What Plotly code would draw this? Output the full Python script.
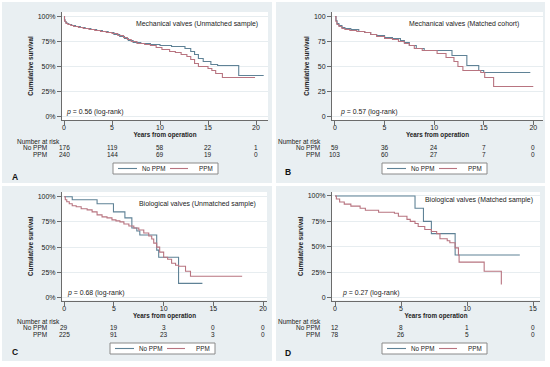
import plotly.graph_objects as go

# ---------------- data ----------------
panel_titles = [
    "Mechanical valves (Unmatched sample)",
    "Mechanical valves (Matched cohort)",
    "Biological valves (Unmatched sample)",
    "Biological valves (Matched sample)",
]
p_values = ["0.56", "0.57", "0.68", "0.27"]
panel_letters = ["A", "B", "C", "D"]
group_names = ["No PPM", "PPM"]

# Panel A - Mechanical valves (unmatched)
a_noppm_time = [0, 0.05, 0.1, 0.2, 0.3, 0.5, 0.8, 1.2, 1.7, 2.2, 2.8, 3.4, 4.0, 4.6, 5.2, 5.8, 6.3, 6.7,
                7.2, 8.0, 9.0, 10.0, 11.2, 12.6, 13.2, 13.6, 14.0, 14.5, 15.3, 16.0, 18.2, 20.8]
a_noppm_surv = [100, 97, 95, 94, 93, 92, 91, 90, 89, 88, 87, 86, 85, 84, 82, 80, 78, 76,
                74, 73, 72, 71, 70, 68, 65, 62, 58, 55, 52, 51, 41, 41]
a_ppm_time = [0, 0.05, 0.1, 0.2, 0.4, 0.7, 1.0, 1.5, 2.0, 2.6, 3.2, 3.8, 4.4, 5.0, 5.6, 6.2, 6.6, 7.0,
              7.6, 8.4, 9.0, 9.6, 10.2, 11.0, 11.6, 12.2, 12.8, 13.2, 13.6, 14.0, 15.0, 15.4, 15.8, 16.5, 19.9]
a_ppm_surv = [100, 96, 95, 93, 92, 91, 90, 89, 88, 87, 86, 85, 84, 83, 81, 79, 77, 75,
              73, 72, 71, 69, 67, 65, 64, 62, 60, 57, 53, 50, 48, 46, 43, 39, 39]

# Panel B - Mechanical valves (matched)
b_noppm_time = [0, 0.1, 0.2, 0.4, 0.7, 1.0, 1.6, 2.4, 3.0, 3.6, 4.2, 5.0, 5.8, 6.6, 7.0, 7.5, 8.2, 9.0,
                11.8, 13.3, 14.5, 15.0, 19.7]
b_noppm_surv = [100, 96, 93, 91, 89, 88, 87, 85, 84, 82, 81, 79, 78, 76, 74, 71, 68, 66,
                61, 51, 46, 44, 44]
b_ppm_time = [0, 0.1, 0.2, 0.4, 0.7, 1.0, 1.5, 2.2, 3.0, 3.6, 4.2, 5.0, 5.8, 6.4, 7.0, 7.5, 8.0, 8.8,
              10.3, 11.2, 12.0, 12.4, 12.9, 14.7, 15.1, 16.0, 20.0]
b_ppm_surv = [100, 95, 92, 90, 88, 87, 86, 85, 84, 82, 80, 78, 77, 75, 73, 71, 68, 66,
              63, 59, 55, 50, 46, 44, 39, 30, 30]

# Panel C - Biological valves (unmatched)
c_noppm_time = [0, 0.8, 3.3, 4.95, 6.1, 6.8, 7.3, 7.6, 9.3, 9.5, 11.5, 13.9]
c_noppm_surv = [100, 97, 93, 85, 79, 69, 66, 62, 47, 40, 14, 14]
c_ppm_time = [0, 0.1, 0.25, 0.5, 0.8, 1.2, 1.7, 2.3, 2.8, 3.3, 3.8, 4.3, 4.8, 5.2, 5.6, 6.0, 6.5, 7.0,
              7.5, 8.0, 8.5, 8.8, 9.0, 9.3, 9.6, 10.0, 10.4, 10.8, 11.2, 11.5, 12.2, 12.7, 17.9]
c_ppm_surv = [100, 97, 95, 93, 91, 90, 88, 87, 85, 82, 80, 79, 77, 76, 75, 73, 71, 69,
              67, 64, 61, 58, 54, 50, 45, 40, 38, 34, 32, 31, 26, 21, 21]

# Panel D - Biological valves (matched)
d_noppm_time = [0, 6.06, 6.7, 7.3, 9.1, 14.0]
d_noppm_surv = [100, 88, 75, 63, 42, 42]
d_ppm_time = [0, 0.1, 0.35, 0.7, 1.2, 1.9, 2.3, 3.3, 4.5, 4.8, 5.45, 5.7, 6.06, 6.3, 6.8, 7.3, 7.7,
              7.95, 8.5, 8.7, 9.1, 9.35, 9.4, 11.3, 12.6]
d_ppm_surv = [100, 97, 94, 92, 90, 88, 86, 84, 83, 80, 77, 75, 73, 70, 67, 65, 63,
              58, 56, 54, 49, 42, 35, 26, 13]

# Number at risk
risk_times_20 = [0, 5, 10, 15, 20]
risk_times_15 = [0, 5, 10, 15]
a_risk_noppm = [176, 119, 58, 22, 1]
a_risk_ppm = [240, 144, 69, 19, 0]
b_risk_noppm = [59, 36, 24, 7, 0]
b_risk_ppm = [103, 60, 27, 7, 0]
c_risk_noppm = [29, 19, 3, 0, 0]
c_risk_ppm = [225, 91, 23, 3, 0]
d_risk_noppm = [12, 8, 1, 0]
d_risk_ppm = [78, 26, 5, 0]

y_tick_vals = [0, 25, 50, 75, 100]
y_ticktext_pct = ["0%", "25%", "50%", "75%", "100%"]
y_ticktext_num = ["0", "25", "50", "75", "100"]
y_ticktext_d = ["0", "25%", "50%", "75%", "100%"]

series = [
    (a_noppm_time, a_noppm_surv, a_ppm_time, a_ppm_surv),
    (b_noppm_time, b_noppm_surv, b_ppm_time, b_ppm_surv),
    (c_noppm_time, c_noppm_surv, c_ppm_time, c_ppm_surv),
    (d_noppm_time, d_noppm_surv, d_ppm_time, d_ppm_surv),
]
risk = [
    (risk_times_20, a_risk_noppm, a_risk_ppm),
    (risk_times_20, b_risk_noppm, b_risk_ppm),
    (risk_times_20, c_risk_noppm, c_risk_ppm),
    (risk_times_15, d_risk_noppm, d_risk_ppm),
]
y_ticktexts = [y_ticktext_pct, y_ticktext_num, y_ticktext_pct, y_ticktext_d]
x_tick_sets = [risk_times_20, risk_times_20, risk_times_20, risk_times_15]

# ---------------- layout (pixels) ----------------
W, H = 550, 367
FONT = "Arial, 'Liberation Sans', sans-serif"
BG = "#e9eff2"
COL_NO = "#5f8296"
COL_PPM = "#b87480"
TXT = "#222222"
AX = "#6b6b6b"
colors = [COL_NO, COL_PPM]

geo = [
    dict(px=(62, 268), py=(12, 120), xr=(-0.21, 21.25), yr=(-3.5, 104.5),
         title_xy=(20.4, 93), p_xy=(0.0, 4.5), tab_y=(141.5, 147.8, 154), hdr_x=15, grp_x=49,
         leg=(113, 163), letter=(15, 177)),
    dict(px=(332, 543), py=(12, 120), xr=(-0.3, 20.98), yr=(-3.5, 104.5),
         title_xy=(18.8, 93), p_xy=(0.3, 5), tab_y=(141.5, 147.8, 154), hdr_x=276, grp_x=321.7,
         leg=(382, 163), letter=(288, 172)),
    dict(px=(62, 267), py=(192, 300.5), xr=(-0.23, 20.4), yr=(-3, 104.7),
         title_xy=(19.5, 92.8), p_xy=(0.07, 4.8), tab_y=(321.5, 327.8, 334), hdr_x=15, grp_x=49,
         leg=(110, 343), letter=(15, 352)),
    dict(px=(332, 540), py=(192, 300.5), xr=(-0.23, 15.53), yr=(-2.75, 103.9),
         title_xy=(15.15, 96), p_xy=(0.38, 5), tab_y=(321.5, 327.8, 334), hdr_x=276, grp_x=321.7,
         leg=(382, 343), letter=(288, 353)),
]
# legend box geometry relative to its left/top corner (pixels)
LEG_W, LEG_H = 105, 11
LEG_LINES = [(5, 24), (57, 75)]
LEG_TEXT_X = [27, 84]


def fx(px):
    return px / W


def fy(py):
    return 1 - py / H


fig = go.Figure()
annotations = []
shapes = []
layout_extra = {}

for i in range(4):
    g = geo[i]
    sfx = "" if i == 0 else str(i + 1)
    xa, ya = "x" + sfx, "y" + sfx
    nt, ns, pt, ps = series[i]
    fig.add_trace(go.Scatter(x=nt, y=ns, mode="lines", line=dict(color=COL_NO, width=1.1, shape="hv"),
                             name=group_names[0], xaxis=xa, yaxis=ya, showlegend=False))
    fig.add_trace(go.Scatter(x=pt, y=ps, mode="lines", line=dict(color=COL_PPM, width=1.1, shape="hv"),
                             name=group_names[1], xaxis=xa, yaxis=ya, showlegend=False))

    layout_extra["xaxis" + sfx] = dict(
        domain=[fx(g["px"][0]), fx(g["px"][1])], range=list(g["xr"]), anchor=ya,
        tickvals=x_tick_sets[i], ticks="outside", ticklen=4, tickcolor=AX, tickwidth=1,
        ticklabelstandoff=-3,
        showline=True, linecolor=AX, linewidth=1, showgrid=False, zeroline=False,
        tickfont=dict(size=7, color=TXT, family=FONT),
        title=dict(text="<b>Years from operation</b>", font=dict(size=6.3, color=TXT, family=FONT), standoff=0),
    )
    layout_extra["yaxis" + sfx] = dict(
        domain=[fy(g["py"][1]), fy(g["py"][0])], range=list(g["yr"]), anchor=xa,
        tickvals=y_tick_vals, ticktext=y_ticktexts[i], ticks="outside", ticklen=4, tickcolor=AX,
        tickwidth=1, showline=True, linecolor=AX, linewidth=1, showgrid=True, gridcolor="#e7edf0",
        gridwidth=1, zeroline=False, tickfont=dict(size=7, color=TXT, family=FONT),
        title=dict(text="<b>Cumulative survival</b>", font=dict(size=6.3, color=TXT, family=FONT), standoff=3),
    )

    # panel title inside plot
    annotations.append(dict(text=panel_titles[i], xref=xa, yref=ya, x=g["title_xy"][0], y=g["title_xy"][1],
                            xanchor="right", yanchor="middle", showarrow=False,
                            font=dict(size=6.9, color=TXT, family=FONT)))
    # p-value
    annotations.append(dict(text="<i>p</i> = " + p_values[i] + " (log-rank)", xref=xa, yref=ya,
                            x=g["p_xy"][0], y=g["p_xy"][1], xanchor="left", yanchor="middle",
                            showarrow=False, font=dict(size=6.9, color=TXT, family=FONT)))
    # number at risk table
    rt, rn, rp = risk[i]
    ty = g["tab_y"]
    annotations.append(dict(text="Number at risk", xref="paper", yref="paper", x=fx(g["hdr_x"]), y=fy(ty[0]),
                            xanchor="left", yanchor="middle", showarrow=False,
                            font=dict(size=6.5, color=TXT, family=FONT)))
    for row, (gname, vals) in enumerate([(group_names[0], rn), (group_names[1], rp)]):
        yy = fy(ty[row + 1])
        annotations.append(dict(text=gname, xref="paper", yref="paper", x=fx(g["grp_x"]), y=yy,
                                xanchor="right", yanchor="middle", showarrow=False,
                                font=dict(size=6.5, color=TXT, family=FONT)))
        for t, v in zip(rt, vals):
            annotations.append(dict(text=str(v), xref=xa, yref="paper", x=t, y=yy,
                                    xanchor="center", yanchor="middle", showarrow=False,
                                    font=dict(size=6.5, color=TXT, family=FONT)))
    # legend box (drawn as a key under the risk table)
    lx, lt = g["leg"]
    shapes.append(dict(type="rect", xref="paper", yref="paper", x0=fx(lx), x1=fx(lx + LEG_W),
                       y0=fy(lt + LEG_H), y1=fy(lt), fillcolor="white",
                       line=dict(color="#8a8a8a", width=1)))
    for k in range(2):
        ly = fy(lt + LEG_H / 2)
        shapes.append(dict(type="line", xref="paper", yref="paper", x0=fx(lx + LEG_LINES[k][0]),
                           x1=fx(lx + LEG_LINES[k][1]), y0=ly, y1=ly, line=dict(color=colors[k], width=1.1)))
        annotations.append(dict(text=group_names[k], xref="paper", yref="paper", x=fx(lx + LEG_TEXT_X[k]), y=ly,
                                xanchor="left", yanchor="middle", showarrow=False,
                                font=dict(size=6.3, color=TXT, family=FONT)))
    # panel letter
    annotations.append(dict(text="<b>" + panel_letters[i] + "</b>", xref="paper", yref="paper",
                            x=fx(g["letter"][0]), y=fy(g["letter"][1]), xanchor="center", yanchor="middle",
                            showarrow=False, font=dict(size=8.5, color="#111111", family=FONT)))

# white gaps between the four grey panels
gaps = [(0, 0, 550, 2), (0, 0, 2, 367), (545, 0, 550, 367), (0, 361, 550, 367),
        (272, 0, 276, 367), (0, 183, 550, 186)]
for a, b, c, d in gaps:
    shapes.append(dict(type="rect", xref="paper", yref="paper", x0=fx(a), x1=fx(c), y0=fy(d), y1=fy(b),
                       fillcolor="white", line=dict(width=0), layer="below"))

fig.update_layout(
    width=W, height=H, margin=dict(l=0, r=0, t=0, b=0),
    paper_bgcolor=BG, plot_bgcolor="white",
    font=dict(family=FONT, color=TXT),
    annotations=annotations, shapes=shapes, showlegend=False,
    **layout_extra,
)

fig.write_html("out.html", config={"displayModeBar": False},
               post_script="document.body.style.margin='0px';document.body.style.overflow='hidden';")
